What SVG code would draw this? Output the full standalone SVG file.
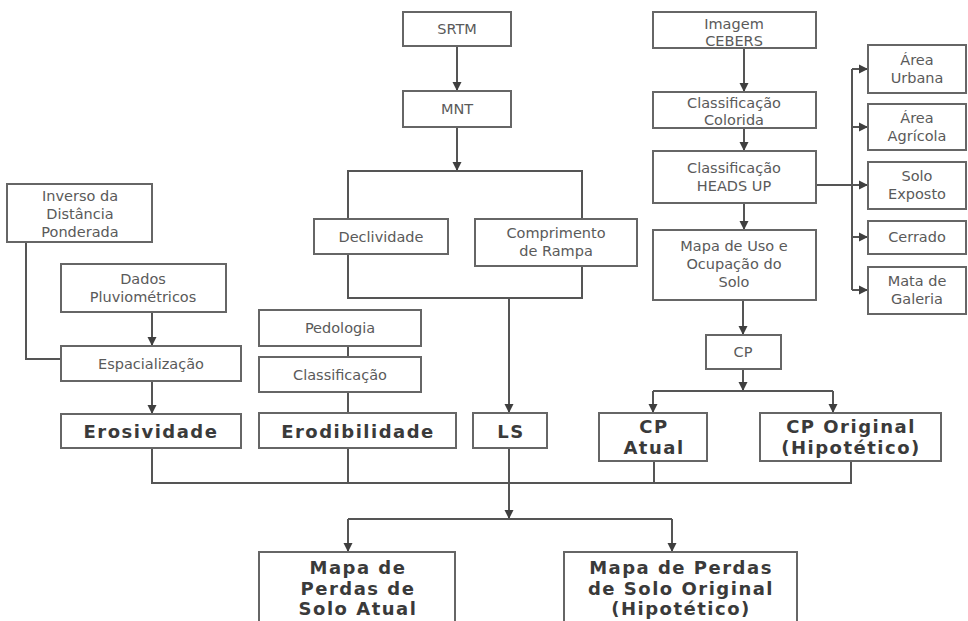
<svg xmlns="http://www.w3.org/2000/svg" width="968" height="621" viewBox="0 0 968 621">
<defs>
<marker id="ah" markerUnits="userSpaceOnUse" markerWidth="12" markerHeight="12" viewBox="0 0 12 12" refX="11" refY="6" orient="auto">
<path d="M2,1.5 L11,6 L2,10.5 Z" fill="#3f3f3f"/>
</marker>
</defs>
<style>
rect{fill:#fff;stroke:#666;stroke-width:2}
text{font-family:"DejaVu Sans",Verdana,sans-serif;text-anchor:middle}
.n{font-size:14.5px;fill:#5a5a5a}
.b{font-size:18px;font-weight:bold;fill:#3a3a3a;letter-spacing:1.5px}
#connectors path{fill:none;stroke:#555;stroke-width:2}
.a{marker-end:url(#ah)}
</style>
<rect x="0" y="0" width="968" height="621" style="fill:#fff;stroke:none"/>
<g id="connectors">
<path class="a" d="M457,46 V91"/>
<path class="a" d="M457,127 V171"/>
<path d="M348,219 V171 H582 V219"/>
<path d="M348,254 V298 H582 V266"/>
<path class="a" d="M509,298 V413"/>
<path d="M26,242 V359 H61"/>
<path class="a" d="M152,312 V346"/>
<path class="a" d="M152,381 V414"/>
<path d="M348,346 V357"/>
<path d="M348,392 V413"/>
<path class="a" d="M744,48 V92"/>
<path class="a" d="M744,128 V151"/>
<path class="a" d="M744,203 V230"/>
<path class="a" d="M743,300 V335"/>
<path class="a" d="M816,185 H868"/>
<path d="M852,69 V290"/>
<path class="a" d="M852,69 H868"/>
<path class="a" d="M852,127 H868"/>
<path class="a" d="M852,237 H868"/>
<path class="a" d="M852,290 H868"/>
<path class="a" d="M743,369 V391"/>
<path d="M653,391 H833"/>
<path class="a" d="M653,391 V413"/>
<path class="a" d="M833,391 V413"/>
<path d="M152,448 V483 H851 V461"/>
<path d="M348,448 V483"/>
<path d="M509,448 V483"/>
<path d="M654,461 V483"/>
<path class="a" d="M509,483 V519"/>
<path d="M348,519 H672"/>
<path class="a" d="M348,519 V552"/>
<path class="a" d="M672,519 V552"/>
</g>
<g id="srtm"><rect x="403" y="12" width="108" height="34"/><text class="n" x="457" y="34">SRTM</text></g>
<g id="mnt"><rect x="403" y="91" width="108" height="36"/><text class="n" x="457" y="114">MNT</text></g>
<g id="declividade"><rect x="314" y="219" width="134" height="35"/><text class="n" x="381" y="242">Declividade</text></g>
<g id="comprimento"><rect x="475" y="219" width="162" height="47"/><text class="n" x="556" y="238">Comprimento</text><text class="n" x="556" y="256">de Rampa</text></g>
<g id="inverso"><rect x="7" y="184" width="145" height="58"/><text class="n" x="80" y="201">Inverso da</text><text class="n" x="80" y="219">Distância</text><text class="n" x="80" y="237">Ponderada</text></g>
<g id="dados"><rect x="61" y="264" width="165" height="48"/><text class="n" x="143" y="284">Dados</text><text class="n" x="143" y="302">Pluviométricos</text></g>
<g id="espacializacao"><rect x="61" y="346" width="180" height="35"/><text class="n" x="151" y="369">Espacialização</text></g>
<g id="erosividade"><rect x="61" y="414" width="180" height="34"/><text class="b" x="151" y="438">Erosividade</text></g>
<g id="pedologia"><rect x="259" y="310" width="162" height="36"/><text class="n" x="340" y="333">Pedologia</text></g>
<g id="classificacao"><rect x="259" y="357" width="162" height="35"/><text class="n" x="340" y="380">Classificação</text></g>
<g id="erodibilidade"><rect x="259" y="413" width="197" height="35"/><text class="b" x="358" y="438">Erodibilidade</text></g>
<g id="ls"><rect x="473" y="413" width="74" height="35"/><text class="b" x="511" y="438">LS</text></g>
<g id="imagem"><rect x="653" y="12" width="163" height="36"/><text class="n" x="734" y="29">Imagem</text><text class="n" x="734" y="46">CEBERS</text></g>
<g id="colorida"><rect x="653" y="92" width="163" height="36"/><text class="n" x="734" y="108">Classificação</text><text class="n" x="734" y="125">Colorida</text></g>
<g id="headsup"><rect x="653" y="151" width="163" height="52"/><text class="n" x="734" y="173">Classificação</text><text class="n" x="734" y="191">HEADS UP</text></g>
<g id="mapauso"><rect x="653" y="230" width="163" height="70"/><text class="n" x="734" y="251">Mapa de Uso e</text><text class="n" x="734" y="269">Ocupação do</text><text class="n" x="734" y="287">Solo</text></g>
<g id="urbana"><rect x="868" y="45" width="98" height="48"/><text class="n" x="917" y="65">Área</text><text class="n" x="917" y="83">Urbana</text></g>
<g id="agricola"><rect x="868" y="104" width="98" height="46"/><text class="n" x="917" y="123">Área</text><text class="n" x="917" y="141">Agrícola</text></g>
<g id="soloexposto"><rect x="868" y="162" width="98" height="47"/><text class="n" x="917" y="181">Solo</text><text class="n" x="917" y="199">Exposto</text></g>
<g id="cerrado"><rect x="868" y="221" width="98" height="33"/><text class="n" x="917" y="242">Cerrado</text></g>
<g id="mata"><rect x="868" y="267" width="98" height="47"/><text class="n" x="917" y="286">Mata de</text><text class="n" x="917" y="304">Galeria</text></g>
<g id="cp"><rect x="706" y="335" width="75" height="34"/><text class="n" x="743" y="357">CP</text></g>
<g id="cpatual"><rect x="599" y="413" width="108" height="48"/><text class="b" x="654" y="433">CP</text><text class="b" x="654" y="454">Atual</text></g>
<g id="cporiginal"><rect x="760" y="413" width="181" height="48"/><text class="b" x="851" y="433">CP Original</text><text class="b" x="851" y="454">(Hipotético)</text></g>
<g id="mapaatual"><rect x="259" y="552" width="196" height="80"/><text class="b" x="358" y="574">Mapa de</text><text class="b" x="358" y="595">Perdas de</text><text class="b" x="358" y="615">Solo Atual</text></g>
<g id="mapaoriginal"><rect x="564" y="552" width="233" height="80"/><text class="b" x="681" y="574">Mapa de Perdas</text><text class="b" x="681" y="595">de Solo Original</text><text class="b" x="681" y="615">(Hipotético)</text></g>
</svg>
